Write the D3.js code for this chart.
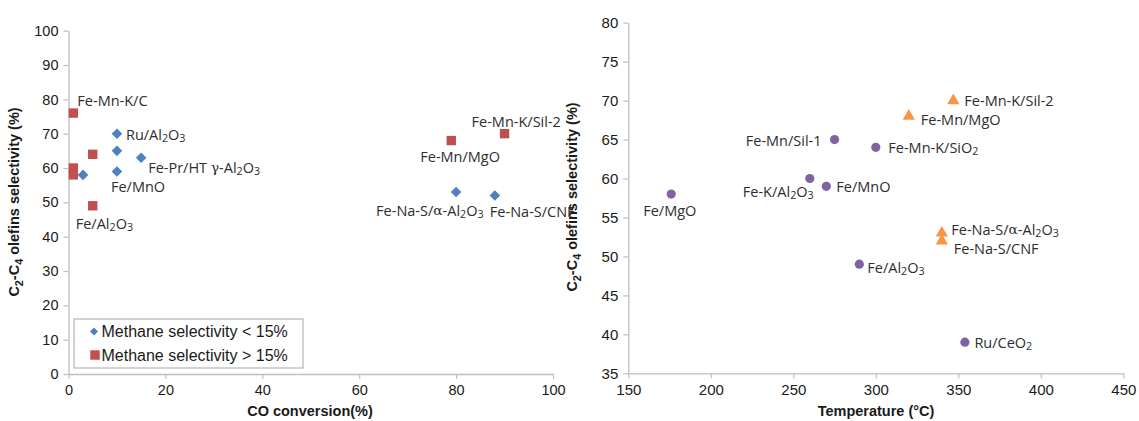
<!DOCTYPE html>
<html>
<head>
<meta charset="utf-8">
<script src="https://cdn.jsdelivr.net/npm/d3@7"></script>
<style>
  html, body { margin: 0; padding: 0; background: #fff; }
  svg { display: block; }
</style>
</head>
<body>
<svg id="chart" width="1139" height="421"></svg>
<script>
// ---------------- DATA ----------------
// Left panel: CO conversion (%) vs C2-C4 olefins selectivity (%)
const leftLowX = [3, 10, 10, 10, 15, 80, 88];          // Methane selectivity < 15%
const leftLowY = [58, 70, 65, 59, 63, 53, 52];
const leftLowLabels = ["", "Ru/Al_2O_3", "", "Fe/MnO", "Fe-Pr/HT γ-Al_2O_3", "Fe-Na-S/α-Al_2O_3", "Fe-Na-S/CNF"];

const leftHighX = [1, 1, 1, 5, 5, 79, 90];             // Methane selectivity > 15%
const leftHighY = [76, 60, 58, 64, 49, 68, 70];
const leftHighLabels = ["Fe-Mn-K/C", "", "", "", "Fe/Al_2O_3", "Fe-Mn/MgO", "Fe-Mn-K/Sil-2"];

const leftXTicks = [0, 20, 40, 60, 80, 100];
const leftYTicks = [0, 10, 20, 30, 40, 50, 60, 70, 80, 90, 100];
const legendLabels = ["Methane selectivity < 15%", "Methane selectivity > 15%"];

// Right panel: Temperature (°C) vs C2-C4 olefins selectivity (%)
const rightCircleX = [176, 275, 260, 270, 290, 300, 354];
const rightCircleY = [58, 65, 60, 59, 49, 64, 39];
const rightCircleLabels = ["Fe/MgO", "Fe-Mn/Sil-1", "Fe-K/Al_2O_3", "Fe/MnO", "Fe/Al_2O_3", "Fe-Mn-K/SiO_2", "Ru/CeO_2"];

const rightTriX = [347, 320, 340, 340];
const rightTriY = [70, 68, 53, 52];
const rightTriLabels = ["Fe-Mn-K/Sil-2", "Fe-Mn/MgO", "Fe-Na-S/α-Al_2O_3", "Fe-Na-S/CNF"];

const rightXTicks = [150, 200, 250, 300, 350, 400, 450];
const rightYTicks = [35, 40, 45, 50, 55, 60, 65, 70, 75, 80];

// ---------------- LAYOUT / STYLE ----------------
const leftLowOffsets  = [null, [9, 0], null, [-6, 15], [7, 9], [-80, 18], [-5, 16]];
const leftHighOffsets = [[4, -13], null, null, null, [-17, 17.5], [-31, 15.5], [-33, -12.5]];
const rightCircleOffsets = [[-28, 16], [-13, 0, "end"], [-67, 12.5], [10, 0], [8, 2.4], [12.5, 0], [9.5, 0]];
const rightTriOffsets = [[11, -1], [12, 2.5], [9.5, -4], [12, 7.5]];

const C = { blue: "#4F81BD", red: "#C0504D", purple: "#8064A2", orange: "#F79646", axis: "#bfbfbf", text: "#1a1a1a", label: "#2e2e2e" };
const tickFont = "Liberation Sans, Arial, sans-serif";
const labelFont = "Open Sans, sans-serif";
const labelSize = 14.5;

const svg = d3.select("#chart");

// scales
const xL = d3.scaleLinear().domain([0, 100]).range([68.5, 553]);
const yL = d3.scaleLinear().domain([0, 100]).range([374, 30.7]);
const xR = d3.scaleLinear().domain([150, 450]).range([628.3, 1123.3]);
const yR = d3.scaleLinear().domain([35, 80]).range([373.3, 22.7]);

// text with subscripts: "_d" marks a subscript character; Greek letters in serif
function richText(sel, str, size) {
  const parts = [];
  let i = 0;
  while (i < str.length) {
    const ch = str[i];
    if (ch === "_") { parts.push({ t: str[i + 1], sub: true }); i += 2; }
    else if (ch === "α" || ch === "γ") { parts.push({ t: ch, greek: true }); i += 1; }
    else {
      let j = i; let s = "";
      while (j < str.length && str[j] !== "_" && str[j] !== "α" && str[j] !== "γ") { s += str[j]; j++; }
      parts.push({ t: s }); i = j;
    }
  }
  let prevSub = false;
  parts.forEach(p => {
    const ts = sel.append("tspan").text(p.t);
    if (p.sub) {
      ts.attr("font-size", size * 0.74);
      if (!prevSub) ts.attr("dy", size * 0.28);
      prevSub = true;
    } else {
      if (prevSub) ts.attr("dy", -size * 0.28);
      prevSub = false;
      if (p.greek) ts.attr("font-family", "DejaVu Serif, serif").attr("font-size", size * 0.95);
    }
  });
}

function drawAxes(x, y, xTicks, yTicks, fs) {
  const gx = svg.append("g").attr("transform", `translate(0,${y.range()[0]})`)
    .call(d3.axisBottom(x).tickValues(xTicks).tickSize(5).tickSizeOuter(0).tickPadding(6));
  const gy = svg.append("g").attr("transform", `translate(${x.range()[0]},0)`)
    .call(d3.axisLeft(y).tickValues(yTicks).tickSize(5).tickSizeOuter(0).tickPadding(5));
  [gx, gy].forEach(g => {
    g.select(".domain").attr("stroke", C.axis).attr("stroke-width", 1.3);
    g.selectAll(".tick line").attr("stroke", C.axis).attr("stroke-width", 1.2);
    g.selectAll(".tick text").attr("fill", C.text).attr("font-size", fs).attr("font-family", tickFont);
  });
}

function yTitle(cx, cy) {
  const t = svg.append("text")
    .attr("transform", `translate(${cx},${cy}) rotate(-90)`)
    .attr("text-anchor", "middle").attr("font-family", tickFont).attr("font-weight", "bold")
    .attr("font-size", 14.5).attr("fill", C.text);
  richText(t, "C_2-C_4 olefins selectivity (%)", 14.5);
}

function xTitle(cx, cy, str) {
  svg.append("text").attr("x", cx).attr("y", cy)
    .attr("text-anchor", "middle").attr("font-family", tickFont).attr("font-weight", "bold")
    .attr("font-size", 14.5).attr("fill", C.text).text(str);
}

function pointLabels(xs, ys, labels, offsets, x, y) {
  labels.forEach((lab, i) => {
    if (!lab || !offsets[i]) return;
    const o = offsets[i];
    const t = svg.append("text")
      .attr("x", x(xs[i]) + o[0]).attr("y", y(ys[i]) + o[1])
      .attr("dominant-baseline", "central")
      .attr("text-anchor", o[2] || "start")
      .attr("font-family", labelFont).attr("font-size", labelSize).attr("fill", C.label);
    richText(t, lab, labelSize);
  });
}

// rotated-square diamond
const diamondPath = s => `M0,${-s}L${s},0L0,${s}L${-s},0Z`;

// ---------------- LEFT PANEL ----------------
drawAxes(xL, yL, leftXTicks, leftYTicks, 14.5);
yTitle(19, 202);
xTitle(310, 416, "CO conversion(%)");

const square = d3.symbol().type(d3.symbolSquare).size(88);

svg.append("g").selectAll("path").data(leftLowX).join("path")
  .attr("d", diamondPath(5.3))
  .attr("transform", (d, i) => `translate(${xL(d)},${yL(leftLowY[i])})`)
  .attr("fill", C.blue);

svg.append("g").selectAll("path").data(leftHighX).join("path")
  .attr("d", square)
  .attr("transform", (d, i) => `translate(${xL(d)},${yL(leftHighY[i])})`)
  .attr("fill", C.red);

pointLabels(leftLowX, leftLowY, leftLowLabels, leftLowOffsets, xL, yL);
pointLabels(leftHighX, leftHighY, leftHighLabels, leftHighOffsets, xL, yL);

// legend
const lg = svg.append("g");
lg.append("rect").attr("x", 74).attr("y", 319).attr("width", 229).attr("height", 49)
  .attr("fill", "#fff").attr("stroke", "#a6a6a6").attr("stroke-width", 1);
lg.append("path").attr("d", diamondPath(4))
  .attr("transform", "translate(94,331.5)").attr("fill", C.blue);
lg.append("path").attr("d", d3.symbol().type(d3.symbolSquare).size(90))
  .attr("transform", "translate(95,355)").attr("fill", C.red);
legendLabels.forEach((l, i) => {
  lg.append("text").attr("x", 101.5).attr("y", 331.5 + i * 23.5)
    .attr("dominant-baseline", "central").attr("font-family", tickFont)
    .attr("font-size", 16).attr("fill", C.text).text(l);
});

// ---------------- RIGHT PANEL ----------------
drawAxes(xR, yR, rightXTicks, rightYTicks, 15);
yTitle(577, 197);
xTitle(876, 416, "Temperature (°C)");

svg.append("g").selectAll("circle").data(rightCircleX).join("circle")
  .attr("cx", d => xR(d)).attr("cy", (d, i) => yR(rightCircleY[i])).attr("r", 4.6)
  .attr("fill", C.purple);

const tri = d3.symbol().type(d3.symbolTriangle).size(66);
svg.append("g").selectAll("path").data(rightTriX).join("path")
  .attr("d", tri)
  .attr("transform", (d, i) => `translate(${xR(d)},${yR(rightTriY[i])})`)
  .attr("fill", C.orange);

pointLabels(rightCircleX, rightCircleY, rightCircleLabels, rightCircleOffsets, xR, yR);
pointLabels(rightTriX, rightTriY, rightTriLabels, rightTriOffsets, xR, yR);
</script>
</body>
</html>
